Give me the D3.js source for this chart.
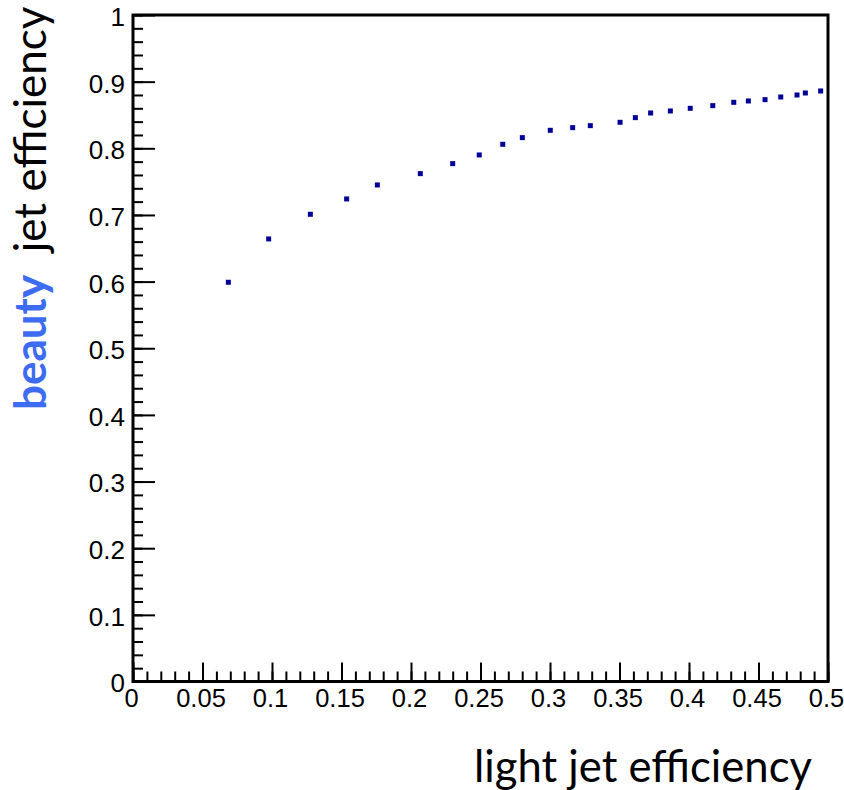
<!doctype html>
<html lang="en">
<head>
<meta charset="utf-8" />
<title>b-tag efficiency</title>
<script src="https://d3js.org/d3.v7.min.js"></script>
<style>
  body { margin: 0; background: #fff; }
  .tick text { font-family: "Liberation Sans", Arial, sans-serif; font-size: 26px; fill: #000; }
  .xax .tick text { font-size: 25.5px; }
  .tick line { stroke: #000; stroke-width: 2px; }
  .title { font-family: Lato, "Open Sans", sans-serif; font-size: 44px; }
</style>
</head>
<body>
<div id="chart"></div>
<script>
// light jet efficiency (x) vs beauty jet efficiency (y)
const lightEff = [0.0686, 0.0976, 0.1276, 0.1537, 0.1758, 0.2067, 0.2300, 0.2491, 0.2660,
  0.2801, 0.3002, 0.3163, 0.3290, 0.3504, 0.3614, 0.3724, 0.3866, 0.4009, 0.4171,
  0.4322, 0.4427, 0.4547, 0.4660, 0.4777, 0.4837, 0.4947];
const beautyEff = [0.599, 0.664, 0.701, 0.724, 0.745, 0.762, 0.777, 0.790, 0.806,
  0.816, 0.827, 0.831, 0.834, 0.839, 0.846, 0.853, 0.856, 0.860, 0.864,
  0.869, 0.871, 0.873, 0.877, 0.880, 0.883, 0.886];

const xTicks = [0, 0.05, 0.1, 0.15, 0.2, 0.25, 0.3, 0.35, 0.4, 0.45, 0.5];
const xTickLabels = ["0", "0.05", "0.1", "0.15", "0.2", "0.25", "0.3", "0.35", "0.4", "0.45", "0.5"];
const yTicks = [0, 0.1, 0.2, 0.3, 0.4, 0.5, 0.6, 0.7, 0.8, 0.9, 1];
const yTickLabels = ["0", "0.1", "0.2", "0.3", "0.4", "0.5", "0.6", "0.7", "0.8", "0.9", "1"];

const W = 844, H = 790;
const svg = d3.select("#chart").append("svg")
  .attr("width", W).attr("height", H);

const x = d3.scaleLinear().domain([0, 0.5]).range([133, 828]);
const y = d3.scaleLinear().domain([0, 1]).range([681.5, 15]);

// minor ticks
const xMinor = d3.range(0, 51).map(i => i / 100);
const yMinor = d3.range(0, 51).map(i => i / 50);

svg.append("g")
  .attr("transform", `translate(0,${y(0)})`)
  .call(d3.axisBottom(x).tickValues(xMinor).tickSize(-10).tickFormat(""))
  .call(g => g.select(".domain").remove());

svg.append("g")
  .attr("transform", `translate(${x(0)},0)`)
  .call(d3.axisLeft(y).tickValues(yMinor).tickSize(-10).tickFormat(""))
  .call(g => g.select(".domain").remove());

// major ticks + labels
svg.append("g")
  .attr("class", "xax")
  .attr("transform", `translate(0,${y(0)})`)
  .call(d3.axisBottom(x).tickValues(xTicks).tickSize(-19).tickPadding(7)
    .tickFormat((d, i) => xTickLabels[i]))
  .call(g => g.select(".domain").remove())
  .selectAll("text").attr("dx", -2);

svg.append("g")
  .attr("transform", `translate(${x(0)},0)`)
  .call(d3.axisLeft(y).tickValues(yTicks).tickSize(-22).tickPadding(8)
    .tickFormat((d, i) => yTickLabels[i]))
  .call(g => g.select(".domain").remove())
  .selectAll("text").attr("dy", "0.4em");

// frame
svg.append("rect")
  .attr("x", x(0)).attr("y", y(1))
  .attr("width", x(0.5) - x(0)).attr("height", y(0) - y(1))
  .attr("fill", "none").attr("stroke", "#000").attr("stroke-width", 3);

// points
svg.selectAll(".pt")
  .data(lightEff)
  .enter().append("rect")
  .attr("class", "pt")
  .attr("x", (d) => x(d) - 2.5)
  .attr("y", (d, i) => y(beautyEff[i]) - 2.5)
  .attr("width", 5).attr("height", 5)
  .attr("fill", "#000099");

// axis titles
svg.append("text")
  .attr("class", "title")
  .attr("x", 474).attr("y", 782)
  .attr("textLength", 338).attr("lengthAdjust", "spacingAndGlyphs")
  .text("light jet efficiency");

const yt = svg.append("text")
  .attr("class", "title")
  .attr("transform", "translate(46,410) rotate(-90)");
yt.append("tspan").attr("fill", "#3d6cf2").attr("font-weight", "bold").text("beauty");
yt.append("tspan").attr("fill", "#000").text("\u00a0 jet efficiency");
</script>
</body>
</html>
